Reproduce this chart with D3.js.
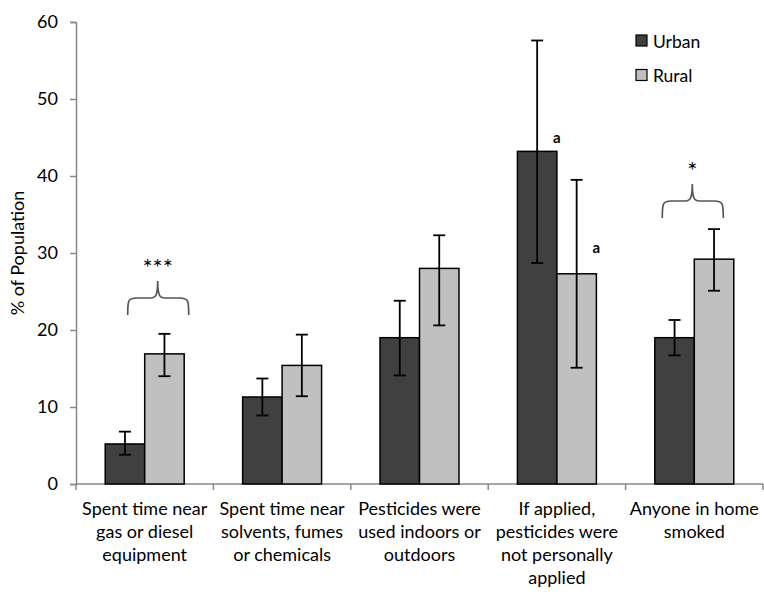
<!DOCTYPE html>
<html><head><meta charset="utf-8">
<script src="https://cdn.jsdelivr.net/npm/d3@7/dist/d3.min.js"></script>
<style>body{margin:0;background:#fff}svg{display:block}text{font-family:Lato,"Open Sans",sans-serif;fill:#000}</style>
</head><body><svg id="c" width="764" height="592"></svg>
<script>
const categories = [
  ["Spent time near","gas or diesel","equipment"],
  ["Spent time near","solvents, fumes","or chemicals"],
  ["Pesticides were","used indoors or","outdoors"],
  ["If applied,","pesticides were","not personally","applied"],
  ["Anyone in home","smoked"]
];
const seriesNames = ["Urban","Rural"];
const urban = [5.2, 11.3, 19.0, 43.2, 19.0];
const urbanLo = [3.8, 8.9, 14.1, 28.7, 16.7];
const urbanHi = [6.8, 13.7, 23.8, 57.6, 21.3];
const rural = [16.9, 15.4, 28.0, 27.3, 29.2];
const ruralLo = [14.0, 11.4, 20.6, 15.1, 25.1];
const ruralHi = [19.5, 19.4, 32.3, 39.5, 33.1];
const yTicks = [0,10,20,30,40,50,60];
const colors = ["#404040","#c0c0c0"];

const svg = d3.select("#c");
const m = {l:76, r:1, t:22, b:108};
const W = 764, H = 592;
const x = d3.scaleBand().domain(d3.range(categories.length)).range([m.l, W-m.r]).paddingInner(0).paddingOuter(0);
const x1 = d3.scaleBand().domain([0,1]).range([0, x.bandwidth()]).paddingInner(0).paddingOuter(0.74);
const y = d3.scaleLinear().domain([0,60]).range([H-m.b, m.t]);

// y axis
const ya = svg.append("g").attr("transform",`translate(${m.l},0)`)
  .call(d3.axisLeft(y).tickValues(yTicks).tickSize(6).tickPadding(12));
ya.select(".domain").attr("stroke","#888").attr("stroke-width",1.5);
ya.selectAll(".tick line").attr("stroke","#888").attr("stroke-width",1.5);
ya.selectAll(".tick text").attr("font-size",18).attr("font-family","Lato,sans-serif").attr("fill","#000");

// x axis
const xa = svg.append("g").attr("transform",`translate(0,${y(0)})`);
xa.append("line").attr("x1",m.l).attr("x2",W-m.r).attr("stroke","#888").attr("stroke-width",1.5);
categories.forEach((c,i)=>{
  xa.append("line").attr("x1",x(i)+x.bandwidth()).attr("x2",x(i)+x.bandwidth()).attr("y1",0).attr("y2",6).attr("stroke","#888").attr("stroke-width",1.5);
});
xa.append("line").attr("x1",m.l).attr("x2",m.l).attr("y1",0).attr("y2",6).attr("stroke","#888").attr("stroke-width",1.5);

// bars
const vals = [urban, rural], los=[urbanLo, ruralLo], his=[urbanHi, ruralHi];
for (let s=0;s<2;s++){
  const g = svg.append("g");
  g.selectAll("rect").data(vals[s]).join("rect")
    .attr("x",(d,i)=>x(i)+x1(s)).attr("width",x1.bandwidth())
    .attr("y",d=>y(d)).attr("height",d=>y(0)-y(d))
    .attr("fill",colors[s]).attr("stroke","#000").attr("stroke-width",1.5);
}
// error bars
for (let s=0;s<2;s++){
  const g = svg.append("g").attr("stroke","#000").attr("stroke-width",1.8);
  vals[s].forEach((d,i)=>{
    const cx = x(i)+x1(s)+x1.bandwidth()/2;
    g.append("line").attr("x1",cx).attr("x2",cx).attr("y1",y(los[s][i])).attr("y2",y(his[s][i]));
    g.append("line").attr("x1",cx-6).attr("x2",cx+6).attr("y1",y(los[s][i])).attr("y2",y(los[s][i]));
    g.append("line").attr("x1",cx-6).attr("x2",cx+6).attr("y1",y(his[s][i])).attr("y2",y(his[s][i]));
  });
}

// category labels
categories.forEach((lines,i)=>{
  const cx = x(i)+x.bandwidth()/2;
  const t = svg.append("text").attr("text-anchor","middle").attr("font-size",18)
    .attr("x",cx).attr("y",y(0)+31);
  lines.forEach((l,j)=>t.append("tspan").attr("x",cx).attr("dy",j?23:0).text(l));
});

// y label
svg.append("text").attr("transform",`translate(24,${(y(0)+y(60))/2}) rotate(-90)`)
  .attr("text-anchor","middle").attr("font-size",18).text("% of Population");

// legend
seriesNames.forEach((n,i)=>{
  const ly = 41 + i*34.5;
  svg.append("rect").attr("x",636).attr("y",ly-6).attr("width",11).attr("height",11)
    .attr("fill",colors[i]).attr("stroke","#000").attr("stroke-width",1.2);
  svg.append("text").attr("x",653).attr("y",ly+6.5).attr("font-size",17.5).text(n);
});

// braces and significance
function brace(x0,x1b,xm,yTop){
  const yh=yTop+17, yb=yTop+34;
  const p = `M${x0},${yb} C${x0},${yh+3} ${x0},${yh} ${x0+9},${yh} L${xm-7},${yh} C${xm-2},${yh} ${xm},${yh-3} ${xm},${yTop} C${xm},${yh-3} ${xm+2},${yh} ${xm+7},${yh} L${x1b-9},${yh} C${x1b},${yh} ${x1b},${yh+3} ${x1b},${yb}`;
  svg.append("path").attr("d",p).attr("fill","none").attr("stroke","#555").attr("stroke-width",1.7);
}
const c0 = x(0)+x.bandwidth()/2, c4 = x(4)+x.bandwidth()/2;
brace(c0-17, c0+44, c0+13, 281);
svg.append("text").attr("x",c0+13).attr("y",276).attr("text-anchor","middle").attr("font-size",24).text("***");
brace(c4-32, c4+29, c4-2, 184);
svg.append("text").attr("x",c4-2).attr("y",179).attr("text-anchor","middle").attr("font-size",24).text("*");

// 'a' labels
const c3 = x(3)+x.bandwidth()/2;
svg.append("text").attr("x",c3).attr("y",y(urban[3])-8).attr("text-anchor","middle").attr("font-size",15).attr("font-weight","bold").attr("fill","#333").text("a");
svg.append("text").attr("x",c3+x1.bandwidth()).attr("y",y(rural[3])-21).attr("text-anchor","middle").attr("font-size",15).attr("font-weight","bold").attr("fill","#333").text("a");
</script></body></html>
